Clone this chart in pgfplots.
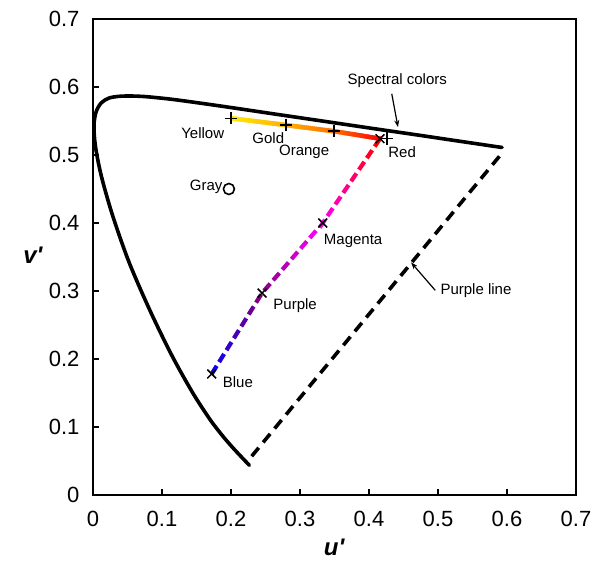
\documentclass[border=0pt]{standalone}
\usepackage{fontspec}
\setmainfont{Liberation Sans}
\usepackage{pgfplots}
\pgfplotsset{compat=1.18}
\usetikzlibrary{decorations.markings,arrows.meta}

\pgfplotsset{
  colormap={spectralmap}{rgb255(0pt)=(255,235,0); rgb255(36.8pt)=(255,176,0); rgb255(69.1pt)=(255,110,0); rgb255(100pt)=(255,0,0)},
  colormap={magmap}{rgb255(0pt)=(255,0,0); rgb255(35.2pt)=(255,0,255); rgb255(67.4pt)=(128,0,128); rgb255(100pt)=(0,0,255)},
}

\tikzset{
  gradline/.style n args={4}{draw=none, postaction={decorate}, decoration={markings,
     mark=between positions 0 and 1 step #2 with {
        \pgfmathsetmacro\gradf{min(1000,max(0,\pgfkeysvalueof{/pgf/decoration/mark info/distance from start}/\pgfdecoratedpathlength*1000))}
        \draw[/pgfplots/color of colormap={\gradf\space of #1}, draw=., line width=#4, line cap=butt] (0pt,0pt) -- (#3,0pt);
     }}},
}

\begin{document}
\begin{tikzpicture}
\useasboundingbox (-93pt,-70pt) rectangle (505pt,495pt);
\begin{axis}[
  at={(0,0)}, anchor=south west, scale only axis,
  width=483pt, height=476pt,
  xmin=0, xmax=0.7, ymin=0, ymax=0.7,
  clip=false,
  xtick={0,0.1,0.2,0.3,0.4,0.5,0.6,0.7},
  ytick={0,0.1,0.2,0.3,0.4,0.5,0.6,0.7},
  xticklabels={0,0.1,0.2,0.3,0.4,0.5,0.6,0.7},
  yticklabels={0,0.1,0.2,0.3,0.4,0.5,0.6,0.7},
  tick pos=left, tick align=inside,
  major tick length=6pt,
  axis line style={line width=1.4pt},
  tick style={line width=1.3pt, black},
  tick label style={font=\fontsize{22}{25}\selectfont},
  xticklabel style={yshift=-13pt},
  yticklabel style={xshift=-10pt},
  xlabel={\textbf{\textit{u\textquotesingle}}},
  ylabel={\textbf{\textit{v\textquotesingle}}},
  label style={font=\fontsize{24}{26}\selectfont},
  xlabel style={at={(axis description cs:0.5,-0.111)}, anchor=center},
  ylabel style={rotate=-90, at={(axis description cs:-0.124,0.504)}, anchor=center},
]
% spectral locus
\addplot[black, line width=3.6pt, smooth, tension=0.5, line join=round, line cap=round] coordinates {
(0.2266,0.0437) (0.2161,0.0549) (0.2033,0.0688) (0.1877,0.0871) (0.1690,0.1119)
(0.1441,0.1510) (0.1147,0.2044) (0.0828,0.2708) (0.0521,0.3427) (0.0282,0.4117)
(0.0119,0.4698) (0.0035,0.5131) (0.0014,0.5432) (0.0046,0.5638) (0.0123,0.5770)
(0.0231,0.5837) (0.0360,0.5861) (0.0501,0.5868) (0.0643,0.5865) (0.0792,0.5856)
(0.1127,0.5821) (0.1531,0.5766) (0.2026,0.5694) (0.2623,0.5604) (0.3315,0.5501)
(0.4035,0.5393) (0.4692,0.5296) (0.5203,0.5219) (0.5565,0.5165) (0.5830,0.5125)
(0.5929,0.5111)
};
% purple line
\addplot[black, line width=3.6pt, dash pattern=on 11pt off 7pt] coordinates {(0.230,0.057) (0.593,0.503)};
% spectral colour segment
\addplot[gradline={spectralmap}{1pt}{1.6pt}{4.5pt}] coordinates {(0.200,0.554) (0.280,0.544) (0.349,0.535) (0.416,0.524)};
% magenta line
\addplot[gradline={magmap}{14pt}{9.5pt}{4.2pt}] coordinates {(0.416,0.524) (0.333,0.400) (0.245,0.297) (0.172,0.178)};
% markers
\addplot[only marks, mark=+, mark size=6.2pt, mark options={line width=1.5pt, black}] coordinates {(0.200,0.554) (0.280,0.544) (0.349,0.535) (0.426,0.524)};
\addplot[only marks, mark=x, mark size=6.2pt, mark options={line width=1.5pt, black}] coordinates {(0.416,0.524) (0.333,0.400) (0.245,0.297) (0.172,0.178)};
\addplot[only marks, mark=o, mark size=5.5pt, mark options={line width=1.6pt, black, fill=white}] coordinates {(0.197,0.450)};
% labels
\begin{scope}[every node/.style={font=\fontsize{15}{17}\selectfont, inner sep=0pt}]
\node at (axis cs:0.159,0.532) {Yellow};
\node at (axis cs:0.254,0.525) {Gold};
\node at (axis cs:0.306,0.505) {Orange};
\node at (axis cs:0.448,0.504) {Red};
\node at (axis cs:0.164,0.453) {Gray};
\node at (axis cs:0.377,0.374) {Magenta};
\node at (axis cs:0.293,0.278) {Purple};
\node at (axis cs:0.210,0.166) {Blue};
\node at (axis cs:0.441,0.609) {Spectral colors};
\node at (axis cs:0.555,0.300) {Purple line};
\end{scope}
\draw[line width=1.2pt, -{Stealth[length=7pt,width=5pt]}] (axis cs:0.433,0.590) -- (axis cs:0.442,0.541);
\draw[line width=1.2pt, -{Stealth[length=7pt,width=5pt]}] (axis cs:0.496,0.301) -- (axis cs:0.461,0.342);
\end{axis}
\end{tikzpicture}
\end{document}
